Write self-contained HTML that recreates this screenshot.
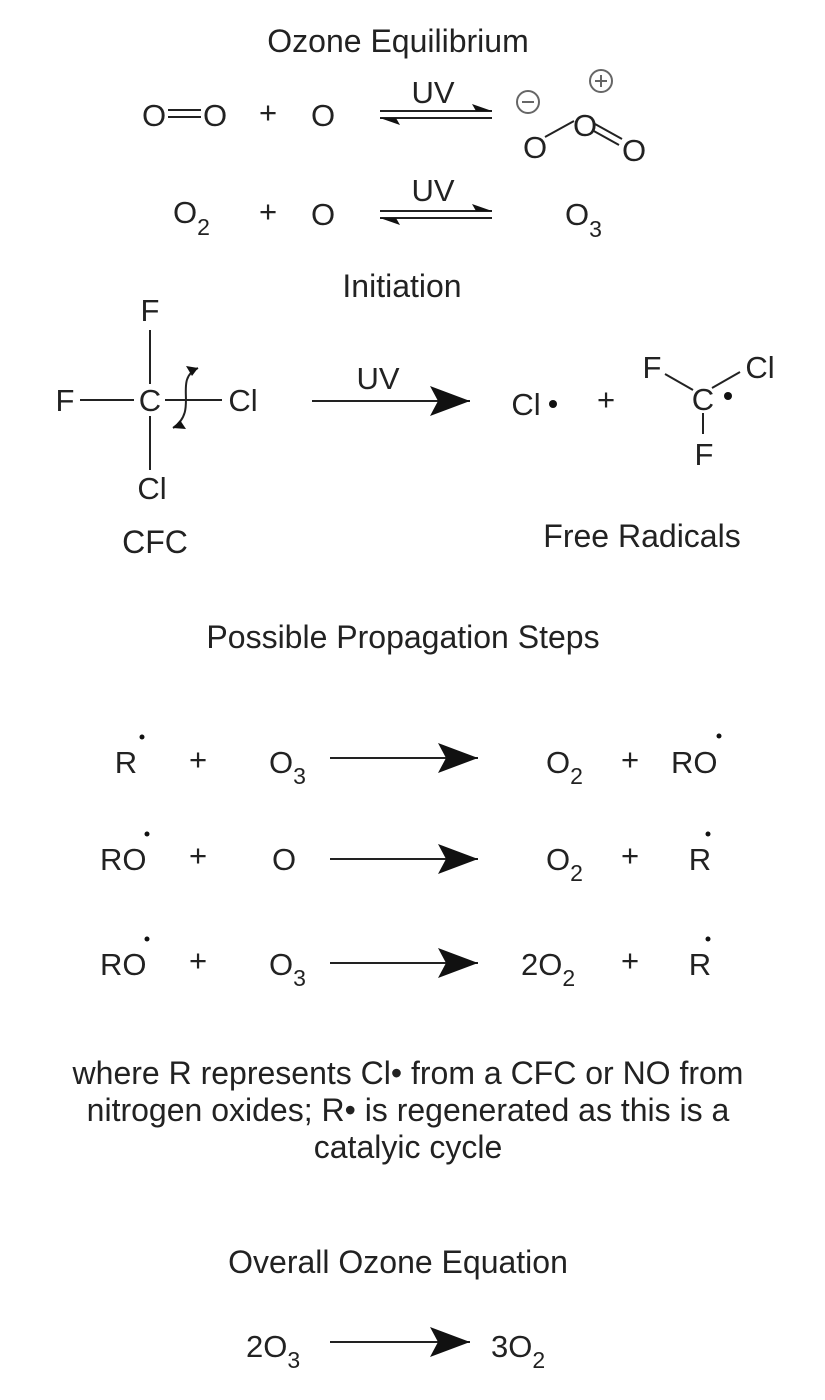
<!DOCTYPE html>
<html><head><meta charset="utf-8"><style>
html,body{margin:0;padding:0;background:#fff;}
svg{display:block;}
text{font-family:"Liberation Sans",sans-serif;fill:#222;}
.t{font-size:32px;}
.c{font-size:31px;}
.s{font-size:23px;}
</style></head><body>
<svg width="825" height="1400" viewBox="0 0 825 1400" xmlns="http://www.w3.org/2000/svg">
<defs>
<marker id="ah" viewBox="0 0 40 30" refX="40" refY="15" markerWidth="40" markerHeight="30" markerUnits="userSpaceOnUse" orient="auto">
<path d="M0,0 L40,15 L0,30 L8,15 Z" fill="#111"/></marker>
</defs>
<g stroke="#222" stroke-width="2" fill="none">
<line x1="168" y1="110" x2="201" y2="110"/><line x1="168" y1="117" x2="201" y2="117"/>
<line x1="380" y1="111" x2="492" y2="111"/><line x1="380" y1="118" x2="492" y2="118"/>
<line x1="380" y1="211" x2="492" y2="211"/><line x1="380" y1="218" x2="492" y2="218"/>
<line x1="545" y1="137" x2="574" y2="121"/>
<line x1="595" y1="124" x2="622" y2="139"/><line x1="592" y1="130" x2="619" y2="145"/>
<circle cx="528" cy="102" r="11" stroke="#666"/><line x1="522" y1="102" x2="534" y2="102" stroke="#666"/>
<circle cx="601" cy="81" r="11" stroke="#666"/><line x1="595" y1="81" x2="607" y2="81" stroke="#666"/><line x1="601" y1="75" x2="601" y2="87" stroke="#666"/>
<line x1="150" y1="330" x2="150" y2="384"/>
<line x1="150" y1="416" x2="150" y2="470"/>
<line x1="80" y1="400" x2="134" y2="400"/>
<line x1="165" y1="400" x2="222" y2="400"/>
<path d="M173,428 C200,410 172,380 198,368"/>
<line x1="312" y1="401" x2="470" y2="401" marker-end="url(#ah)"/>
<line x1="665" y1="374" x2="693" y2="390"/>
<line x1="712" y1="388" x2="740" y2="372"/>
<line x1="703" y1="413" x2="703" y2="434"/>
<line x1="330" y1="758" x2="478" y2="758" marker-end="url(#ah)"/>
<line x1="330" y1="859" x2="478" y2="859" marker-end="url(#ah)"/>
<line x1="330" y1="963" x2="478" y2="963" marker-end="url(#ah)"/>
<line x1="330" y1="1342" x2="470" y2="1342" marker-end="url(#ah)"/>
</g>
<g fill="#111">
<path d="M492,111 L472,104 L476,111 Z"/><path d="M380,118 L400,125 L396,118 Z"/>
<path d="M492,211 L472,204 L476,211 Z"/><path d="M380,218 L400,225 L396,218 Z"/>
<path d="M198,368 L186,366 L192,376 Z"/><path d="M173,428 L186,429 L180,420 Z"/>
<circle cx="553" cy="404" r="4"/>
<circle cx="728" cy="396" r="4"/>
</g>
<text class="t" x="398" y="52" text-anchor="middle">Ozone Equilibrium</text>
<text class="c" x="142" y="126">O</text><text class="c" x="203" y="126">O</text>
<text class="c" x="268" y="123" text-anchor="middle" font-size="24">+</text>
<text class="c" x="323" y="126" text-anchor="middle">O</text>
<text class="c" x="433" y="103" text-anchor="middle">UV</text>
<text class="c" x="535" y="158" text-anchor="middle">O</text>
<text class="c" x="585" y="136" text-anchor="middle">O</text>
<text class="c" x="634" y="161" text-anchor="middle">O</text>
<text class="c" x="173" y="223">O<tspan class="s" dy="12">2</tspan></text>
<text class="c" x="268" y="222" text-anchor="middle" font-size="24">+</text>
<text class="c" x="323" y="225" text-anchor="middle">O</text>
<text class="c" x="433" y="201" text-anchor="middle">UV</text>
<text class="c" x="565" y="225">O<tspan class="s" dy="12">3</tspan></text>
<text class="t" x="402" y="297" text-anchor="middle">Initiation</text>
<text class="c" x="150" y="321" text-anchor="middle">F</text>
<text class="c" x="65" y="411" text-anchor="middle">F</text>
<text class="c" x="150" y="411" text-anchor="middle">C</text>
<text class="c" x="243" y="411" text-anchor="middle">Cl</text>
<text class="c" x="152" y="499" text-anchor="middle">Cl</text>
<text class="c" x="378" y="389" text-anchor="middle">UV</text>
<text class="c" x="526" y="415" text-anchor="middle">Cl</text>
<text class="c" x="606" y="410" text-anchor="middle" font-size="24">+</text>
<text class="c" x="652" y="378" text-anchor="middle">F</text>
<text class="c" x="703" y="410" text-anchor="middle">C</text>
<text class="c" x="760" y="378" text-anchor="middle">Cl</text>
<text class="c" x="704" y="465" text-anchor="middle">F</text>
<text class="t" x="155" y="553" text-anchor="middle">CFC</text>
<text class="t" x="642" y="547" text-anchor="middle">Free Radicals</text>
<text class="t" x="403" y="648" text-anchor="middle">Possible Propagation Steps</text>
<text class="c" x="126" y="773" text-anchor="middle">R</text><circle cx="142" cy="737" r="2.5" fill="#111"/>
<text class="c" x="198" y="770" text-anchor="middle" font-size="24">+</text>
<text class="c" x="269" y="773">O<tspan class="s" dy="11">3</tspan></text>
<text class="c" x="546" y="773">O<tspan class="s" dy="11">2</tspan></text>
<text class="c" x="630" y="770" text-anchor="middle" font-size="24">+</text>
<text class="c" x="671" y="773">RO</text><circle cx="719" cy="736" r="2.5" fill="#111"/>
<text class="c" x="100" y="870">RO</text><circle cx="147" cy="834" r="2.5" fill="#111"/>
<text class="c" x="198" y="866" text-anchor="middle" font-size="24">+</text>
<text class="c" x="284" y="870" text-anchor="middle">O</text>
<text class="c" x="546" y="870">O<tspan class="s" dy="11">2</tspan></text>
<text class="c" x="630" y="866" text-anchor="middle" font-size="24">+</text>
<text class="c" x="700" y="870" text-anchor="middle">R</text><circle cx="708" cy="834" r="2.5" fill="#111"/>
<text class="c" x="100" y="975">RO</text><circle cx="147" cy="939" r="2.5" fill="#111"/>
<text class="c" x="198" y="971" text-anchor="middle" font-size="24">+</text>
<text class="c" x="269" y="975">O<tspan class="s" dy="11">3</tspan></text>
<text class="c" x="521" y="975">2O<tspan class="s" dy="11">2</tspan></text>
<text class="c" x="630" y="971" text-anchor="middle" font-size="24">+</text>
<text class="c" x="700" y="975" text-anchor="middle">R</text><circle cx="708" cy="939" r="2.5" fill="#111"/>
<text class="t" x="408" y="1084" text-anchor="middle">where R represents Cl• from a CFC or NO from</text>
<text class="t" x="408" y="1121" text-anchor="middle">nitrogen oxides; R• is regenerated as this is a</text>
<text class="t" x="408" y="1158" text-anchor="middle">catalyic cycle</text>
<text class="t" x="398" y="1273" text-anchor="middle">Overall Ozone Equation</text>
<text class="c" x="246" y="1357">2O<tspan class="s" dy="11">3</tspan></text>
<text class="c" x="491" y="1357">3O<tspan class="s" dy="11">2</tspan></text>
</svg>
</body></html>
